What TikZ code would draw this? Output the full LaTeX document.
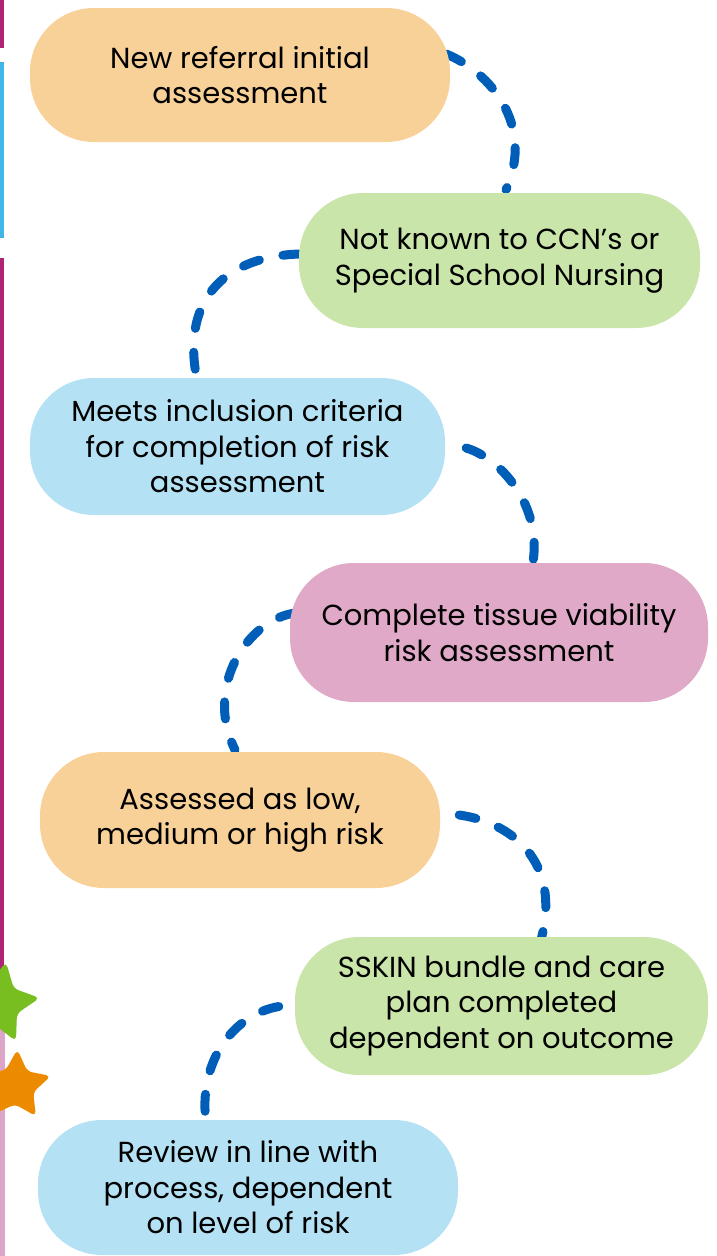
\documentclass[tikz,border=0pt]{standalone}
\usepackage{fontspec}
\setmainfont{Poppins}
\usetikzlibrary{calc}
\pgfdeclarelayer{bg}
\pgfsetlayers{bg,main}
\definecolor{blobOrange}{HTML}{F8D199}
\definecolor{blobGreen}{HTML}{CAE5A9}
\definecolor{blobBlue}{HTML}{B4E2F4}
\definecolor{blobPink}{HTML}{DFA9C7}
\definecolor{dashBlue}{HTML}{005EB8}
\definecolor{stripMagenta}{HTML}{AE2573}
\definecolor{stripBlue}{HTML}{41B6E6}
\definecolor{stripPink}{HTML}{DDA6C8}
\definecolor{starGreen}{HTML}{78BE20}
\definecolor{starOrange}{HTML}{ED8B00}
\tikzset{
  blob/.style={rounded corners=64pt, inner sep=0pt, align=center,
    font=\fontsize{29}{35.5}\selectfont, text=black},
  link/.style={draw=dashBlue, line width=9pt, line cap=round,
    dash pattern=on 17pt off 24pt},
}
\begin{document}
\begin{tikzpicture}[x=1pt,y=-1pt]
\useasboundingbox (0,0) rectangle (716,1256);
\clip (0,0) rectangle (716,1256);
% left strips
\fill[stripMagenta] (0,0) rectangle (4,48);
\fill[stripBlue] (0,62) rectangle (4,238);
\fill[stripMagenta] (0,258) rectangle (4,985);
\fill[stripPink] (0,1020) rectangle (5,1256);
% blobs
\path
  (240,75)     node[blob, fill=blobOrange, minimum width=420pt, minimum height=134pt] (n1) {New referral initial\\assessment}
  (499.5,260.5) node[blob, fill=blobGreen, minimum width=401pt, minimum height=135pt] (n2) {Not known to CCN’s or\\Special School Nursing}
  (237.5,446.5) node[blob, fill=blobBlue, minimum width=415pt, minimum height=137pt] (n3) {Meets inclusion criteria\\for completion of risk\\assessment}
  (499,632.5)  node[blob, fill=blobPink, minimum width=418pt, minimum height=139pt] (n4) {Complete tissue viability\\risk assessment}
  (240,820)    node[blob, fill=blobOrange, minimum width=400pt, minimum height=136pt] (n5) {Assessed as low,\\medium or high risk}
  (501.5,1006) node[blob, fill=blobGreen, minimum width=413pt, minimum height=138pt] (n6) {SSKIN bundle and care\\plan completed\\dependent on outcome}
  (248,1187.5) node[blob, fill=blobBlue, minimum width=420pt, minimum height=135pt] (n7) {Review in line with\\process, dependent\\on level of risk};
% connectors, behind the blobs
\begin{pgfonlayer}{bg}
\draw[link] ($(n1.east)+(-4,-21)$) .. controls (490,72) and (535,125) .. ($(n2.north)+(6.5,-3)$);
\draw[link] ($(n2.west)+(1,-6.5)$) .. controls (230,256) and (180,295) .. ($(n3.north)+(-40.5,2)$);
\draw[link] ($(n3.east)+(21,1.5)$) .. controls (500,458) and (542,505) .. ($(n4.north)+(34,-1)$);
\draw[link] ($(n4.west)+(6,-19.5)$) .. controls (250,618) and (203,685) .. ($(n5.north)+(-5,-2)$);
\draw[link] ($(n5.east)+(19,-5)$) .. controls (510,822) and (562,860) .. ($(n6.north)+(39.5,3)$);
\draw[link] ($(n6.west)+(-16,0.5)$) .. controls (235,1014) and (198,1060) .. ($(n7.north)+(-42,2)$);
\end{pgfonlayer}
% stars
\coordinate (gs) at (-1.9,1003.2);
\coordinate (os) at (15.8,1085.8);
\fill[starGreen, rounded corners=5pt] ($(gs)+(-7.2:42)$)
  \foreach \k in {0,...,3}{ -- ($(gs)+({-7.2-72*\k-36}:21.5)$) -- ($(gs)+({-7.2-72*\k-72}:42)$) }
  -- ($(gs)+({-7.2-288-36}:21.5)$) -- cycle;
\fill[starOrange, rounded corners=5pt] ($(os)+(-15.6:36.5)$)
  \foreach \k in {0,...,3}{ -- ($(os)+({-15.6-72*\k-36}:18.5)$) -- ($(os)+({-15.6-72*\k-72}:36.5)$) }
  -- ($(os)+({-15.6-288-36}:18.5)$) -- cycle;
\end{tikzpicture}
\end{document}
